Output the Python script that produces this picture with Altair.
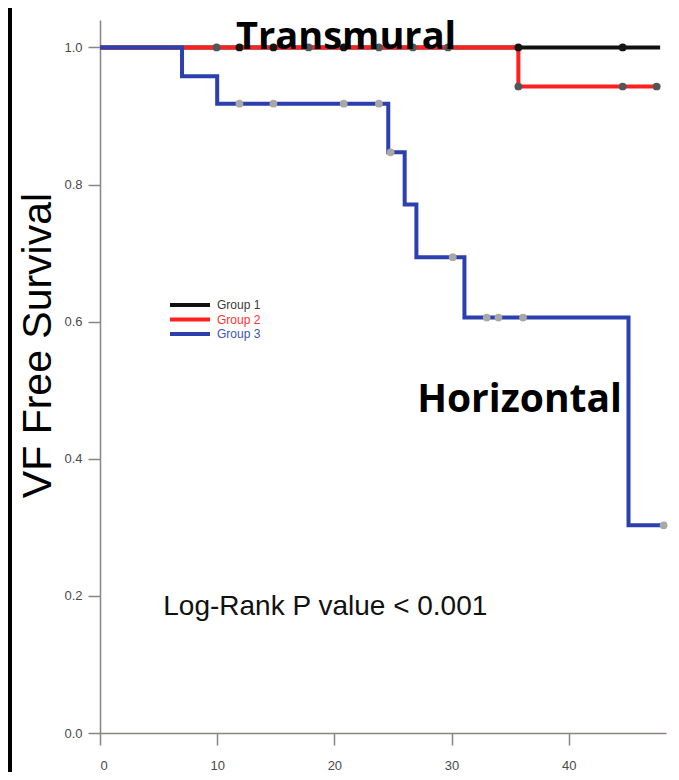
import altair as alt
import pandas as pd

# ---------------- data ----------------
groups = ["Group 1", "Group 2", "Group 3"]
line_colors = ["#111111", "#ff2020", "#2c3fae"]
censor_colors = ["#151515", "#505759", "#a8a8a8"]

g1_time = [0, 47.8]
g1_surv = [1.0, 1.0]
g2_time = [0, 35.7, 47.8]
g2_surv = [1.0, 0.943, 0.943]
g3_time = [0, 7.0, 10.0, 24.6, 26.0, 27.0, 31.1, 45.1, 48.1]
g3_surv = [1.0, 0.958, 0.918, 0.847, 0.771, 0.694, 0.606, 0.303, 0.303]

g1_cens_time = [11.9, 14.8, 20.8, 35.7, 44.6]
g1_cens_surv = [1.0, 1.0, 1.0, 1.0, 1.0]
g2_cens_time = [9.95, 17.8, 23.8, 26.7, 29.7, 35.7, 44.6, 47.5]
g2_cens_surv = [1.0, 1.0, 1.0, 1.0, 1.0, 0.943, 0.943, 0.943]
g3_cens_time = [11.9, 14.8, 20.8, 23.8, 24.8, 30.1, 33.0, 34.0, 36.1, 48.1]
g3_cens_surv = [0.918, 0.918, 0.918, 0.918, 0.847, 0.694, 0.606, 0.606, 0.606, 0.303]

x_ticks = [0, 10, 20, 30, 40]
y_ticks = [0.0, 0.2, 0.4, 0.6, 0.8, 1.0]

ann_text = ["Transmural", "Horizontal"]
ann_x = [21.0, 35.8]
ann_y = [0.9974, 0.468]
ann_size = [38, 39]

pval_text = ["Log-Rank P value  < 0.001"]
pval_x = [5.4]
pval_y = [0.172]

# ---------------- tables ----------------
curves = pd.concat([
    pd.DataFrame({"time": g1_time, "surv": g1_surv, "group": groups[0]}),
    pd.DataFrame({"time": g2_time, "surv": g2_surv, "group": groups[1]}),
    pd.DataFrame({"time": g3_time, "surv": g3_surv, "group": groups[2]}),
], ignore_index=True)

censors = pd.concat([
    pd.DataFrame({"time": g1_cens_time, "surv": g1_cens_surv, "group": groups[0]}),
    pd.DataFrame({"time": g2_cens_time, "surv": g2_cens_surv, "group": groups[1]}),
    pd.DataFrame({"time": g3_cens_time, "surv": g3_cens_surv, "group": groups[2]}),
], ignore_index=True)

ann = pd.DataFrame({"text": ann_text, "time": ann_x, "surv": ann_y, "size": ann_size})
pval = pd.DataFrame({"text": pval_text, "time": pval_x, "surv": pval_y})

PLOT_W, PLOT_H = 566, 713
axis_col = "#8a8380"

x_enc = alt.X(
    "time:Q",
    scale=alt.Scale(domain=[0, 48.3], nice=False, zero=False),
    axis=alt.Axis(
        values=x_ticks, format="d", grid=False, title=None,
        domainColor=axis_col, tickColor=axis_col, domainWidth=1.5, tickWidth=1.5,
        tickSize=12, labelPadding=14, labelFont="Liberation Sans", labelFontSize=13,
        labelColor="#4a4a4a",
    ),
)
y_enc = alt.Y(
    "surv:Q",
    scale=alt.Scale(domain=[0, 1.04], nice=False, zero=False),
    axis=alt.Axis(
        values=y_ticks, format=".1f", grid=False, title="VF Free Survival",
        domainColor=axis_col, tickColor=axis_col, domainWidth=1.5, tickWidth=1.5,
        tickSize=12, labelPadding=6, labelFont="Liberation Sans", labelFontSize=13,
        labelColor="#4a4a4a",
        titleFont="Liberation Sans", titleFontSize=41, titleFontWeight="normal",
        titleColor="black", titleAngle=270, titleAlign="center",
        titleBaseline="alphabetic", titleX=-50, titleY=325,
    ),
)

legend = alt.Legend(
    title=None, orient="none", legendX=84, legendY=279,
    symbolType="M-5,0H5", symbolSize=64, symbolStrokeWidth=4,
    labelOffset=21, labelFont="Liberation Sans", labelFontSize=12,
    labelColor=alt.ExprRef(
        expr="datum.label == 'Group 2' ? '#ff3030' : (datum.label == 'Group 3' ? '#3a55b5' : '#3a3a3a')"
    ),
    rowPadding=-1.5, padding=0,
)

lines = alt.Chart(curves).mark_line(interpolate="step-after", strokeWidth=4).encode(
    x=x_enc, y=y_enc,
    color=alt.Color("group:N", scale=alt.Scale(domain=groups, range=line_colors), legend=legend),
    order=alt.Order("time:Q"),
)

points = alt.Chart(censors).mark_circle(size=60, opacity=1).encode(
    x="time:Q", y="surv:Q",
    fill=alt.Fill("group:N", scale=alt.Scale(domain=groups, range=censor_colors), legend=None),
)

ann_layer = alt.Chart(ann).mark_text(
    font="Open Sans", fontWeight="bold", color="black",
    align="center", baseline="alphabetic",
).encode(x="time:Q", y="surv:Q", text="text:N", size=alt.Size("size:Q", scale=None, legend=None))

pval_layer = alt.Chart(pval).mark_text(
    font="Liberation Sans", fontSize=28, color="#111111",
    align="left", baseline="alphabetic",
).encode(x="time:Q", y="surv:Q", text="text:N")

# thin black frame strip at the picture's left edge
frame = alt.Chart(pd.DataFrame({"k": [0]})).mark_rect(color="black").encode(
    x=alt.value(-92), x2=alt.value(-88), y=alt.value(-12), y2=alt.value(752),
)

chart = alt.layer(frame, lines, points, ann_layer, pval_layer).properties(
    width=PLOT_W, height=PLOT_H,
    autosize=alt.AutoSizeParams(type="none"),
    padding={"left": 92, "top": 12, "right": 5, "bottom": 39},
    background="white",
).configure_view(stroke=None)

chart.save("out.html", embed_options={"renderer": "svg", "actions": False})
